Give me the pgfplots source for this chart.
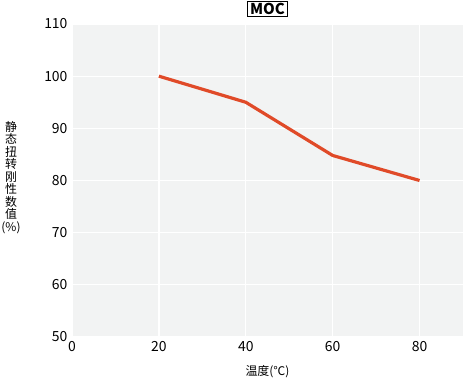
\documentclass[border=0pt]{standalone}
\usepackage{pgfplots}
\pgfplotsset{compat=1.18}
\usepackage{fontspec}
\setmainfont{Noto Sans CJK SC}
\definecolor{bgc}{HTML}{F2F3F3}
\definecolor{linec}{HTML}{E04A28}
\begin{document}
\begin{tikzpicture}
\path[use as bounding box] (-72bp,-44bp) rectangle (391bp,337bp);
\begin{axis}[
  at={(0,0)}, anchor=south west,
  scale only axis, width=391bp, height=313bp,
  xmin=0, xmax=90, ymin=50, ymax=110,
  xtick={0,20,40,60,80}, ytick={50,60,...,110},
  axis line style={draw=none},
  axis background/.style={fill=bgc},
  major tick length=0pt,
  grid=major, major grid style={white, line width=1.3pt},
  tick label style={font=\fontsize{14}{15}\selectfont, black},
  /pgf/number format/assume math mode=true,
  yticklabel style={xshift=-1bp},
  xticklabel style={yshift=-1bp},
  every axis title shift=0pt,
  title={\textbf{MOC}},
  title style={draw=black, line width=0.9pt, inner xsep=2.5pt, inner ysep=1.8pt, font=\fontsize{15}{16}\selectfont, at={(axis description cs:0.5,1)}, anchor=south, yshift=7bp},
  xlabel={温度(℃)},
  xlabel style={font=\fontsize{12}{13}\selectfont, at={(axis description cs:0.5,0)}, anchor=center, yshift=-35bp},
  ylabel={静\\态\\扭\\转\\刚\\性\\数\\值\\(\%)},
  ylabel style={rotate=-90, align=center, font=\fontsize{12}{12.6}\selectfont, at={(axis description cs:0,0.51)}, anchor=center, xshift=-61bp},
]
\addplot[linec, line width=3.2pt, line join=round] coordinates {(20,100) (40,95) (60,84.8) (80,80)};
\end{axis}
\end{tikzpicture}
\end{document}
